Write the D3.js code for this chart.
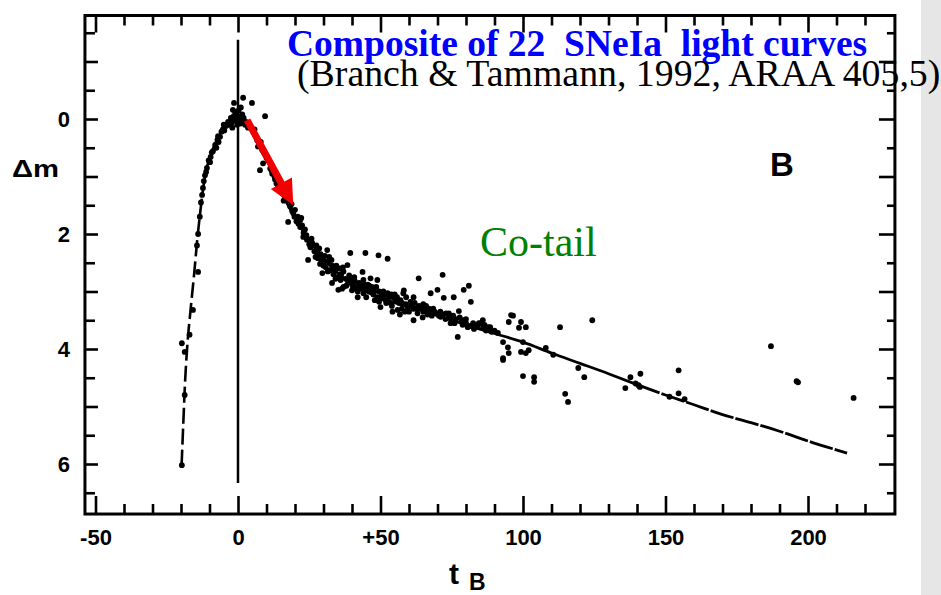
<!DOCTYPE html>
<html>
<head>
<meta charset="utf-8">
<script src="https://cdn.jsdelivr.net/npm/d3@7/dist/d3.min.js"></script>
<style>
  body { margin: 0; background: #fff; }
  svg { display: block; }
  .axis text { font-family: 'Liberation Sans', Arial, sans-serif; font-weight: bold; font-size: 22px; fill: #000; }
  .axis line { stroke: #000; stroke-width: 2.6; }
</style>
</head>
<body>
<script>
// Tick values and labels.
const xMajor = [-50, 0, 50, 100, 150, 200]
const xMajorLabels = ['-50', '0', '+50', '100', '150', '200']
const yMajor = [-1, 0, 1, 2, 3, 4, 5, 6]
const yLabels = { 0: '0', 2: '2', 4: '4', 6: '6' }

// Mean light curve (t_B in days, delta m in mag).
const riseCurve = [
  [-19.8, 6.03], [-19.2, 5.3], [-18.6, 4.6], [-17.8, 3.95], [-16.6, 3.3],
  [-15.4, 2.7], [-14.2, 2.05], [-13.2, 1.6], [-12.2, 1.2], [-10.8, 0.82],
  [-8.8, 0.52], [-6.5, 0.28], [-4, 0.12], [-2, 0.03], [0, 0]
]
const declineCurve = [
  [0, 0], [2, 0.05], [5, 0.2], [8, 0.45], [11, 0.8], [14, 1.15], [17, 1.45],
  [20, 1.7], [23, 1.97], [26, 2.17], [30, 2.42], [35, 2.68], [40, 2.86],
  [45, 3.0], [50, 3.12], [60, 3.26], [70, 3.42], [80, 3.58], [90, 3.73],
  [100, 3.88], [110, 4.07], [120, 4.25], [130, 4.43], [140, 4.62]
]
const tailCurve = [
  [140, 4.62], [150, 4.8], [160, 4.97], [170, 5.14], [180, 5.28], [190, 5.43],
  [200, 5.6], [213.7, 5.81]
]

// Individual observations of the 22 SNe.
const nearPeak = [
  [-1.5, -0.05], [-0.8, 0.02], [0.5, -0.04], [1.2, 0.03], [-2.2, 0.06], [0.9, 0.08],
  [2.0, -0.02], [-1.0, -0.12], [0.2, -0.15], [1.8, -0.37], [4.9, -0.28], [-1.4, -0.28],
  [-1.8, -0.16], [9.5, -0.05], [-3.0, 0.1], [-4.2, 0.12], [-5.3, 0.18], [-6.3, 0.31],
  [-7.2, 0.36], [-8.0, 0.45], [-8.8, 0.56], [-9.6, 0.66], [-10.3, 0.72], [-10.9, 0.85],
  [-11.6, 0.98], [-12.3, 1.2], [-13.0, 1.45], [-13.4, 1.7], [-14.0, 2.0], [-14.4, 2.2],
  [-14.0, 2.66], [-15.8, 3.32], [-19.7, 3.9], [-18.7, 4.05], [-17.0, 3.75], [-18.7, 4.8],
  [-19.7, 6.02], [-0.5, -0.08], [0.3, 0.05], [1.5, -0.08], [-2.5, -0.02], [-3.5, 0.05],
  [2.5, 0.1], [-0.3, 0.1], [1.0, -0.2], [-2.0, 0.15], [-4.8, 0.2], [-5.8, 0.22],
  [-6.8, 0.4], [-7.6, 0.5], [-9.2, 0.58], [-9.8, 0.75], [-11.2, 0.92], [-12.0, 1.08],
  [-12.6, 1.32], [-7.0, 0.3], [-5.0, 0.1]
]
const decline = [
  [2.8, 0.05], [4.0, 0.12], [5.2, 0.2], [6.0, 0.28], [6.7, 0.37], [7.5, 0.42],
  [8.5, 0.54], [9.5, 0.62], [7.7, 0.89], [8.8, 0.77], [10.5, 0.72], [11.3, 0.86],
  [12.0, 0.95], [13.0, 1.05], [14.0, 1.15], [14.8, 1.23], [15.8, 1.3], [16.5, 1.38],
  [17.3, 1.42], [18.3, 1.52], [19.0, 1.6], [20.0, 1.58], [21.0, 1.7], [21.8, 1.76],
  [17.6, 1.79], [19.4, 1.64], [20.5, 1.78], [21.8, 1.88], [22.2, 1.72], [22.9, 2.05],
  [23.5, 1.92], [24.2, 2.1], [24.6, 2.45], [25.4, 2.23], [26.0, 2.15], [26.8, 2.3],
  [27.8, 2.33], [28.5, 2.25], [29.2, 2.45], [29.9, 2.45], [30.5, 2.38], [31.3, 2.28],
  [31.8, 2.5], [32.4, 2.63], [33.0, 2.55], [29.6, 2.68], [34.0, 2.62], [34.9, 2.75],
  [35.5, 2.6], [36.2, 2.7], [37.0, 2.92], [35.2, 2.97], [37.8, 2.78], [38.4, 2.54],
  [39.4, 2.8], [40.2, 2.9], [40.8, 2.75], [41.9, 2.92], [42.5, 2.85], [43.7, 2.66],
  [44.0, 3.03], [44.8, 2.95], [45.5, 2.88], [46.5, 2.97], [46.5, 2.77], [47.5, 3.05],
  [48.9, 3.1], [48.9, 2.8], [49.5, 3.0], [23.0, 1.98], [24.0, 2.02], [25.0, 2.18],
  [26.5, 2.2], [27.2, 2.4], [28.0, 2.42], [29.0, 2.35], [30.0, 2.55], [31.0, 2.48],
  [32.0, 2.4], [33.5, 2.7], [34.5, 2.55], [36.0, 2.8], [37.0, 2.65], [38.0, 2.9],
  [39.0, 2.72], [40.0, 2.98], [41.0, 2.82], [42.0, 3.0], [43.0, 2.9], [44.0, 2.8],
  [45.0, 3.1], [46.0, 3.0], [47.0, 2.92], [48.0, 3.15], [39.4, 2.33], [44.7, 2.33],
  [49.3, 2.37], [52.5, 2.43], [3.5, 0.15], [5.8, 0.18], [7.0, 0.48], [8.0, 0.4],
  [9.0, 0.58], [10.0, 0.68], [11.8, 0.9], [12.8, 1.0], [13.5, 1.12], [15.2, 1.25],
  [16.0, 1.42], [18.8, 1.48], [19.8, 1.7], [21.2, 1.82], [22.5, 1.85], [23.8, 2.05],
  [25.8, 2.08], [27.5, 2.2], [28.8, 2.52], [30.8, 2.58], [32.8, 2.45], [34.2, 2.78],
  [35.8, 2.72], [36.8, 2.58], [38.6, 2.85], [40.5, 2.82], [41.5, 2.95], [43.3, 2.95],
  [44.4, 2.88], [46.0, 2.9], [47.8, 3.0], [48.5, 2.92], [33.0, 2.85], [36.5, 2.95],
  [42.0, 3.1], [31.5, 2.65]
]
const plateau = [
  [50.0, 3.27], [50.8, 3.12], [51.5, 3.05], [52.5, 3.03], [53.5, 3.2], [54.5, 3.1],
  [55.2, 3.15], [56.0, 3.32], [57.0, 3.15], [58.0, 3.03], [58.8, 3.22], [59.5, 3.27],
  [60.5, 3.18], [61.6, 3.1], [61.6, 3.5], [62.5, 3.3], [63.4, 2.77], [64.0, 3.27],
  [65.0, 3.35], [66.0, 3.25], [67.6, 3.03], [67.6, 3.37], [68.5, 3.3], [70.0, 2.97],
  [70.5, 3.42], [71.1, 3.44], [71.8, 2.71], [72.2, 3.11], [73.0, 3.38], [74.6, 3.55],
  [75.7, 3.1], [76.5, 3.48], [77.1, 3.79], [77.5, 3.34], [78.5, 3.52], [79.2, 2.97],
  [80.6, 3.62], [81.0, 2.9], [81.7, 3.18], [82.5, 3.55], [84.0, 3.6], [85.2, 3.55],
  [85.9, 3.5], [87.0, 3.68], [88.5, 3.62], [91.2, 3.72], [93.0, 3.88], [49.5, 3.18],
  [51.0, 3.0], [52.0, 3.2], [53.0, 3.1], [54.0, 3.25], [55.0, 3.05], [56.5, 3.2],
  [57.5, 3.3], [59.0, 3.1], [60.0, 3.35], [62.0, 3.2], [63.0, 3.38], [65.0, 3.22],
  [66.5, 3.4], [69.0, 3.35], [72.0, 3.4], [74.0, 3.45], [75.0, 3.5], [79.0, 3.5],
  [80.0, 3.55], [83.0, 3.6], [86.0, 3.62], [50.5, 3.05], [51.8, 3.15], [53.8, 3.05],
  [55.8, 3.1], [57.5, 3.2], [58.5, 3.35], [60.8, 3.25], [61.5, 3.3], [63.5, 3.25],
  [64.5, 3.3], [66.0, 3.32], [67.0, 3.3], [68.0, 3.42], [69.5, 3.38], [71.0, 3.35],
  [72.8, 3.48], [74.0, 3.38], [75.5, 3.42], [76.0, 3.55], [77.8, 3.45], [78.8, 3.58],
  [80.0, 3.48], [81.5, 3.6], [82.8, 3.65], [84.5, 3.55], [86.5, 3.58], [87.8, 3.62],
  [89.0, 3.7], [90.0, 3.68], [56.8, 3.4], [54.2, 3.35], [64.8, 3.45], [58.2, 2.98]
]
const lateTail = [
  [95.8, 3.41], [95.0, 3.53], [96.5, 3.42], [99.3, 3.53], [98.6, 3.63], [101.0, 3.62],
  [100.0, 3.88], [94.7, 3.97], [99.3, 4.05], [102.0, 4.02], [93.0, 4.16], [93.0, 4.19],
  [95.0, 4.07], [101.0, 4.07], [100.0, 4.47], [103.9, 4.49], [103.9, 4.57], [113.0, 3.62],
  [124.3, 3.5], [108.0, 3.98], [110.6, 4.1], [119.4, 4.33], [121.5, 4.49], [114.8, 4.78],
  [115.8, 4.92], [135.9, 4.68], [137.7, 4.49], [141.2, 4.43], [140.5, 4.63], [139.5, 4.6],
  [141.0, 4.66], [154.6, 4.37], [154.6, 4.77], [156.7, 4.87], [151.4, 4.83], [187.0, 3.95],
  [196.0, 4.56], [196.5, 4.58], [216.0, 4.85]
]

// Red arrow along the early decline.
const arrowFrom = [3.2, 0.02]
const arrowTo = [19.4, 1.5]

const W = 941
const H = 595

// Create svg.
const svg = d3.select('body')
  .append('svg')
    .attr('width', W)
    .attr('height', H)

// Create scales.
const x = d3.scaleLinear().domain([-50, 200]).range([95.5, 808])
const y = d3.scaleLinear().domain([0, 6]).range([119, 464])

// Frame edges in data units.
const frame = { left: -53.7, right: 230.5, top: -1.8, bottom: 6.87 }

// Grey side panel.
svg.append('rect')
    .attr('x', 921).attr('y', 0)
    .attr('width', W - 921).attr('height', H)
    .attr('fill', '#e6e6e6')

// Tick arrays.
const xMinor = d3.range(-50, 221, 10).filter(v => v % 50 !== 0)
const xAll = d3.range(-50, 221, 50)
const yHalf = d3.range(-1.5, 6.6, 1)

const styleAxis = g => { g.attr('class', 'axis'); g.select('.domain').remove() }

// Bottom ticks (pointing up) with labels.
svg.append('g')
    .attr('transform', `translate(0, ${y(frame.bottom)})`)
    .call(d3.axisBottom(x).tickValues(xMinor).tickSize(-10).tickFormat(''))
    .call(styleAxis)
svg.append('g')
    .attr('transform', `translate(0, ${y(frame.bottom)})`)
    .call(d3.axisBottom(x).tickValues(xMajor).tickSize(-18).tickPadding(15)
      .tickFormat((d, i) => xMajorLabels[i]))
    .call(styleAxis)

// Top ticks (pointing down).
svg.append('g')
    .attr('transform', `translate(0, ${y(frame.top)})`)
    .call(d3.axisTop(x).tickValues(xMinor).tickSize(-10).tickFormat(''))
    .call(styleAxis)
svg.append('g')
    .attr('transform', `translate(0, ${y(frame.top)})`)
    .call(d3.axisTop(x).tickValues(xAll).tickSize(-17).tickFormat(''))
    .call(styleAxis)

// Left ticks (pointing right) with labels.
svg.append('g')
    .attr('transform', `translate(${x(frame.left)}, 0)`)
    .call(d3.axisLeft(y).tickValues(yMajor).tickSize(-13).tickPadding(15)
      .tickFormat(d => yLabels[d] || ''))
    .call(styleAxis)
svg.append('g')
    .attr('transform', `translate(${x(frame.left)}, 0)`)
    .call(d3.axisLeft(y).tickValues(yHalf).tickSize(-10).tickFormat(''))
    .call(styleAxis)

// Right ticks (pointing left).
svg.append('g')
    .attr('transform', `translate(${x(frame.right)}, 0)`)
    .call(d3.axisRight(y).tickValues(yMajor).tickSize(-16).tickFormat(''))
    .call(styleAxis)
svg.append('g')
    .attr('transform', `translate(${x(frame.right)}, 0)`)
    .call(d3.axisRight(y).tickValues(yHalf).tickSize(-8).tickFormat(''))
    .call(styleAxis)

// Frame.
svg.append('rect')
    .attr('x', x(frame.left))
    .attr('y', y(frame.top))
    .attr('width', x(frame.right) - x(frame.left))
    .attr('height', y(frame.bottom) - y(frame.top))
    .attr('fill', 'none')
    .attr('stroke', '#000')
    .attr('stroke-width', 3)

// Vertical line at maximum.
svg.append('line')
    .attr('x1', x(0)).attr('x2', x(0))
    .attr('y1', y(-1.38)).attr('y2', y(6.33))
    .attr('stroke', '#000')
    .attr('stroke-width', 2.5)

// Mean curve.
const line = d3.line()
    .x(d => x(d[0]))
    .y(d => y(d[1]))
    .curve(d3.curveMonotoneX)

svg.append('path')
    .datum(riseCurve)
    .attr('d', line)
    .attr('fill', 'none')
    .attr('stroke', '#000')
    .attr('stroke-width', 2.6)
    .attr('stroke-dasharray', '16,5')

svg.append('path')
    .datum(declineCurve)
    .attr('d', line)
    .attr('fill', 'none')
    .attr('stroke', '#000')
    .attr('stroke-width', 2.8)

svg.append('path')
    .datum(tailCurve)
    .attr('d', line)
    .attr('fill', 'none')
    .attr('stroke', '#000')
    .attr('stroke-width', 2.8)
    .attr('stroke-dasharray', '24,2')

// Observations.
const points = [].concat(nearPeak, decline, plateau, lateTail)
svg.append('g')
  .selectAll('circle')
  .data(points)
  .enter().append('circle')
    .attr('cx', d => x(d[0]))
    .attr('cy', d => y(d[1]))
    .attr('r', 2.9)
    .attr('fill', '#000')

// Red arrow.
const ax0 = x(arrowFrom[0]), ay0 = y(arrowFrom[1])
const ax1 = x(arrowTo[0]), ay1 = y(arrowTo[1])
const len = Math.hypot(ax1 - ax0, ay1 - ay0)
const ux = (ax1 - ax0) / len, uy = (ay1 - ay0) / len
const headLen = 25, headHalf = 12
const bx = ax1 - ux * headLen, by = ay1 - uy * headLen
svg.append('line')
    .attr('x1', ax0).attr('y1', ay0)
    .attr('x2', bx + ux * 2).attr('y2', by + uy * 2)
    .attr('stroke', '#f00000')
    .attr('stroke-width', 7)
svg.append('polygon')
    .attr('points', [
      [ax1, ay1],
      [bx - uy * headHalf, by + ux * headHalf],
      [bx + uy * headHalf, by - ux * headHalf]
    ].map(p => p.join(',')).join(' '))
    .attr('fill', '#f00000')

// Axis titles.
svg.append('text')
    .attr('x', 12).attr('y', 177)
    .attr('textLength', 47)
    .attr('lengthAdjust', 'spacingAndGlyphs')
    .style('font-family', "'Liberation Sans', Arial, sans-serif")
    .style('font-weight', 'bold')
    .style('font-size', '24px')
    .text('Δm')

const tb = svg.append('text')
    .attr('x', 449).attr('y', 584)
    .style('font-family', "'Liberation Sans', Arial, sans-serif")
    .style('font-weight', 'bold')
    .style('font-size', '30px')
tb.append('tspan').text('t')
tb.append('tspan')
    .attr('x', 469).attr('y', 590)
    .style('font-size', '23px')
    .text('B')

// Band label.
svg.append('text')
    .attr('x', 770).attr('y', 176)
    .style('font-family', "'Liberation Sans', Arial, sans-serif")
    .style('font-weight', 'bold')
    .style('font-size', '33px')
    .text('B')

// Annotations.
svg.append('text')
    .attr('x', 287).attr('y', 56)
    .attr('xml:space', 'preserve')
    .style('white-space', 'pre')
    .style('font-family', "'Liberation Serif', 'Times New Roman', serif")
    .style('font-weight', 'bold')
    .style('font-size', '37.5px')
    .attr('fill', '#0000ff')
    .text('Composite of 22  SNeIa  light curves')

svg.append('text')
    .attr('x', 297).attr('y', 86)
    .style('font-family', "'Liberation Serif', 'Times New Roman', serif")
    .style('font-size', '37.8px')
    .attr('fill', '#000')
    .text('(Branch & Tammann, 1992, ARAA 405,5)')

svg.append('text')
    .attr('x', 480).attr('y', 256)
    .style('font-family', "'Liberation Serif', 'Times New Roman', serif")
    .style('font-size', '42px')
    .attr('fill', '#008000')
    .text('Co-tail')
</script>
</body>
</html>
